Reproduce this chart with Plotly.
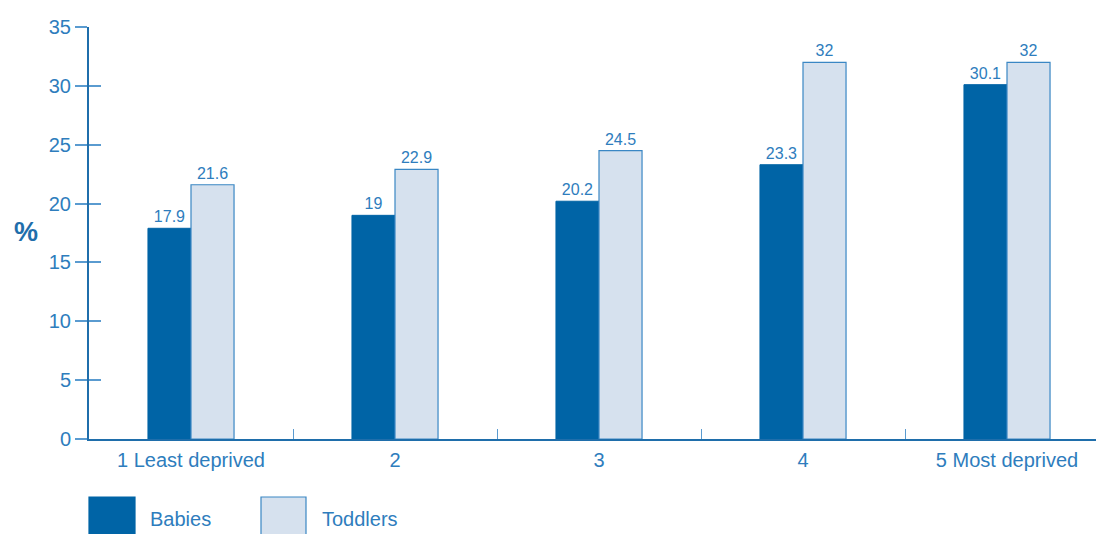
import plotly.graph_objects as go

categories = ["1 Least deprived", "2", "3", "4", "5 Most deprived"]
babies = [17.9, 19, 20.2, 23.3, 30.1]
toddlers = [21.6, 22.9, 24.5, 32, 32]
y_ticks = [0, 5, 10, 15, 20, 25, 30, 35]

W, H = 1096, 534
L, T, R = 89, 27, 0
B = H - 439
FONT = "Liberation Sans, Arial, Helvetica, sans-serif"
TXT = "#2e7dbd"
DARK = "#0064a6"
LIGHT = "#d6e1ee"
EDGE = "#3a87c4"
AXIS = "#1f6eab"
TICK = "#5a9bd0"

fig = go.Figure()
fig.add_trace(go.Bar(
    x=categories, y=babies, name="Babies",
    marker=dict(color=DARK, line=dict(color=DARK, width=1)),
    text=[f"{v:g}" for v in babies], textposition="outside",
    textfont=dict(family=FONT, size=16, color=TXT), cliponaxis=False,
))
fig.add_trace(go.Bar(
    x=categories, y=toddlers, name="Toddlers",
    marker=dict(color=LIGHT, line=dict(color=EDGE, width=1.2)),
    text=[f"{v:g}" for v in toddlers], textposition="outside",
    textfont=dict(family=FONT, size=16, color=TXT), cliponaxis=False,
))

pw = W - L - R
ph = H - T - B
x_hi = -0.5 + pw / 204.0

fig.update_layout(
    width=W, height=H,
    margin=dict(l=L, r=R, t=T, b=B, pad=0, autoexpand=False),
    paper_bgcolor="white", plot_bgcolor="white",
    barmode="group", bargap=0.578, bargroupgap=0,
    showlegend=False,
    font=dict(family=FONT, color=TXT),
    xaxis=dict(
        type="category", range=[-0.5, x_hi],
        showline=True, linecolor=AXIS, linewidth=2,
        ticks="inside", tickson="boundaries", ticklen=10, tickcolor=TICK, tickwidth=1,
        tickfont=dict(family=FONT, size=20, color=TXT), ticklabelstandoff=2,
        showgrid=False, zeroline=False, fixedrange=True,
    ),
    yaxis=dict(
        range=[0, 35], tickvals=y_ticks,
        showline=True, linecolor=AXIS, linewidth=2,
        ticks="outside", ticklen=12, tickcolor=TICK, tickwidth=1.5,
        tickfont=dict(family=FONT, size=20, color=TXT),
        showgrid=False, zeroline=False,
    ),
    yaxis2=dict(
        range=[0, 35], tickvals=y_ticks, overlaying="y", anchor="x", side="left",
        ticks="inside", ticklen=12, tickcolor=TICK, tickwidth=1.5,
        showticklabels=False, showline=False, showgrid=False, zeroline=False,
    ),
)
fig.add_trace(go.Scatter(x=[categories[0]], y=[0], yaxis="y2", mode="markers",
                         marker=dict(opacity=0), hoverinfo="skip", showlegend=False))


# page-pixel -> paper conversions (decoration placement only)
def px_x(px):
    return (px - L) / pw


def px_y(py):
    return (H - B - py) / ph


# y-axis title
fig.add_annotation(text="<b>%</b>", x=px_x(26), y=px_y(232), xref="paper", yref="paper",
                   xanchor="center", yanchor="middle", showarrow=False,
                   font=dict(family=FONT, size=27, color=AXIS))

# hand-drawn legend (decoration)
legend_items = [("Babies", DARK, DARK, 89, 135, 148), ("Toddlers", LIGHT, EDGE, 261, 306, 320)]
for name, fill, edge, x0, x1, tx in legend_items:
    fig.add_shape(type="rect", xref="paper", yref="paper",
                  x0=px_x(x0), x1=px_x(x1), y0=px_y(545), y1=px_y(497),
                  fillcolor=fill, line=dict(color=edge, width=1.2))
    fig.add_annotation(text=name, xref="paper", yref="paper", x=px_x(tx), y=px_y(519),
                       xanchor="left", yanchor="middle", showarrow=False,
                       font=dict(family=FONT, size=20, color=TXT))

fig.write_html(
    "out.html",
    config={"displayModeBar": False},
    post_script="document.body.style.margin='0';document.body.style.overflow='hidden';",
)
